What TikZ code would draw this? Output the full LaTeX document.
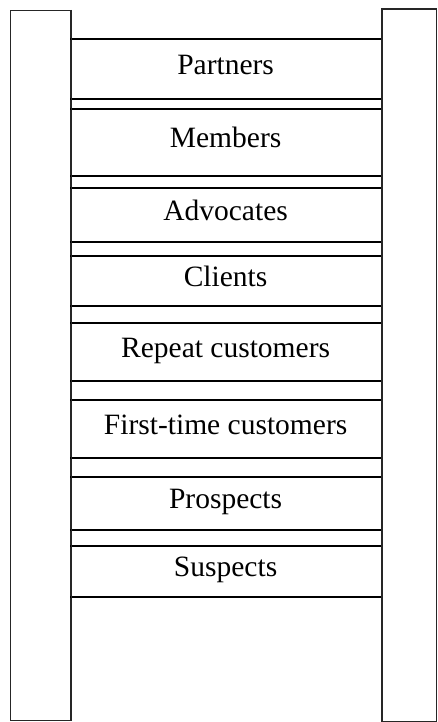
\documentclass[tikz,border=0pt]{standalone}
\usepackage{fontspec}
\setmainfont{Liberation Serif}
\begin{document}
\begin{tikzpicture}[x=1pt,y=-1pt,
  rail/.style={draw=black!85,line width=1.4pt,fill=white},
  rung/.style={draw=black,line width=1.8pt},
  lbl/.style={anchor=base,font=\fontsize{29.5}{34}\selectfont,inner sep=0pt}]
\useasboundingbox (0,0) rectangle (437,722);
\node[rail,minimum width=60pt,minimum height=710pt,inner sep=0pt,anchor=north west] (L) at (10,10) {};
\node[rail,minimum width=54.5pt,minimum height=712.4pt,inner sep=0pt,anchor=north west] (R) at (381.2,8.3) {};
\foreach \n/\t/\b/\txt in {p/39/99/Partners, m/109/175.7/Members, a/188/242.3/Advocates, c/255.7/306/Clients, r/323.3/381/Repeat customers, f/400/458.3/First-time customers, pr/476.7/530/Prospects, s/546/596.7/Suspects}{
  \coordinate (\n t) at (70,\t);
  \coordinate (\n b) at (381.2,\b);
  \draw[rung] (\n t) -- (381.2,\t);
  \draw[rung] (70,\b) -- (\n b);
  \node[lbl] (\n) at (225.6,{(\t+\b)/2+5.5}) {\txt};
}
\draw[rail,fill=none] (L.north east) -- (L.south east);
\draw[rail,fill=none] (R.north west) -- (R.south west);
\end{tikzpicture}
\end{document}
